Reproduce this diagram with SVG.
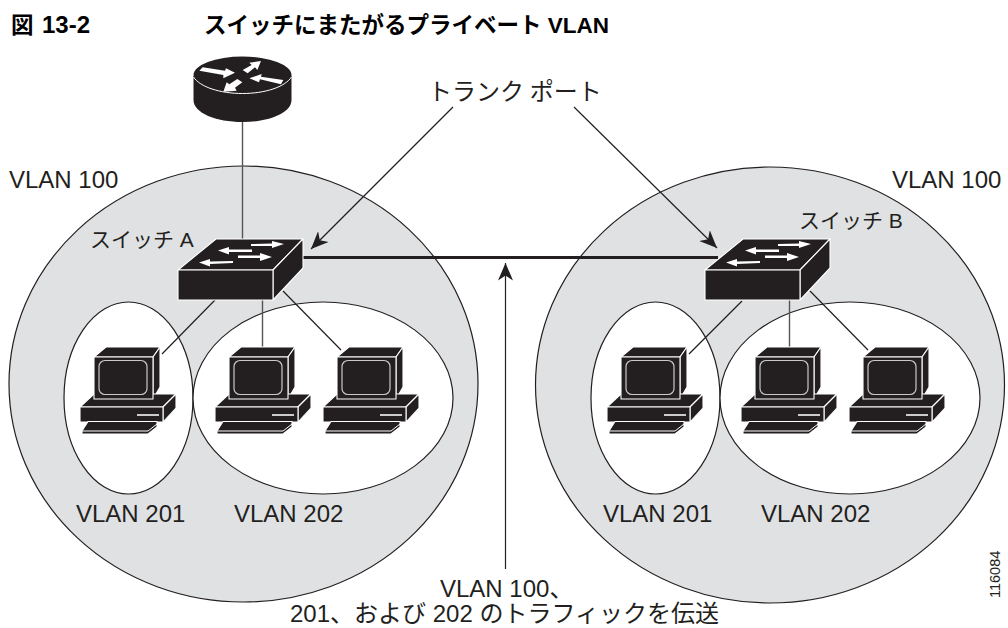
<svg xmlns="http://www.w3.org/2000/svg" width="1008" height="628" viewBox="0 0 1008 628">
<style>
text{font-family:"Liberation Sans","Noto Sans CJK JP",sans-serif;fill:#231f20;font-size:24px}
.t{font-weight:bold;font-size:22.500px;fill:#000}
.s{font-size:21px}
.n{font-size:14.500px}
.big{fill:#e0e1e3;stroke:#231f20;stroke-width:1.2}
.small{fill:#fff;stroke:#231f20;stroke-width:1.2}
.c{fill:none;stroke:#231f20;stroke-width:1.2}
.g{fill:none;stroke:#555;stroke-width:1.4}
.k{fill:#231f20;stroke:#fff;stroke-width:1.1;stroke-linejoin:round}
.w{fill:#fff;stroke:none}
</style>
<defs>
<g id="pc">
<path class="k" d="M94 357L106 347H160L153 357Z"/>
<path class="k" d="M153 357L160 347V387L153 399Z"/>
<path class="k" d="M80 407L94 394H170L176 394L163 407Z"/>
<rect class="k" x="94" y="357" width="59" height="42"/>
<rect x="99" y="360.500" width="48" height="34" rx="6" fill="none" stroke="#c9c9c9" stroke-width="1.2"/>
<path class="k" d="M163 407L176 394V408L163 422Z"/>
<rect class="k" x="80" y="407" width="83" height="15"/>
<rect x="137" y="414" width="22" height="2" fill="#ccc"/>
<path class="k" d="M88 421.500H157V427L148 434H82V431Z"/>
<path d="M82 431H148L157 424" fill="none" stroke="#fff" stroke-width="1"/>
</g>
<g id="switch">
<path class="k" d="M178 270L216 239H303L273 270Z"/>
<path class="k" d="M273 270L303 239V268L273 300Z"/>
<rect class="k" x="178" y="270" width="95" height="30"/>
<path class="w" d="M251 244L272 243.500V241L284 244L272 248V246L251 246Z"/>
<path class="w" d="M218 250.500L229 247V249.500L252 249.500V252L229 252V254.500Z"/>
<path class="w" d="M238 255.500L260 255.500V253L272 257L260 261V258L238 258Z"/>
<path class="w" d="M199 262.500L210 259V261.500L233 261V263L210 264V266.500Z"/>
</g>
<marker id="barb" markerUnits="userSpaceOnUse" markerWidth="24" markerHeight="24" refX="17.500" refY="12" orient="auto">
<path d="M17.500 12L0 4.500L5 12L0 19.500Z" fill="#231f20"/>
</marker>
</defs>
<rect width="1008" height="628" fill="#fff"/>
<g id="title">
<text class="t" x="11" y="33">図</text>
<text class="t" x="42" y="33" style="font-size:24px">13-2</text>
<text class="t" x="204" y="33">スイッチにまたがるプライベート VLAN</text>
</g>
<g id="vlan-100-a"><ellipse class="big" cx="243.500" cy="384" rx="234.500" ry="218"/></g>
<g id="vlan-100-b"><ellipse class="big" cx="770" cy="385" rx="234.500" ry="218"/></g>
<g id="vlan-201-a"><ellipse class="small" cx="128.500" cy="398" rx="64.500" ry="96"/></g>
<g id="vlan-202-a"><ellipse class="small" cx="323" cy="398" rx="130" ry="96"/></g>
<g id="vlan-201-b"><ellipse class="small" cx="655.500" cy="398" rx="64.500" ry="96"/></g>
<g id="vlan-202-b"><ellipse class="small" cx="850" cy="398" rx="130" ry="96"/></g>
<g id="connectors">
<path class="g" d="M242.500 122V239"/>
<path class="c" d="M215 300L162 354"/>
<path class="g" d="M262.500 300V347"/>
<path class="c" d="M283 291L341 350"/>
<path class="c" d="M742 301L689 354"/>
<path class="g" d="M789.500 300V347"/>
<path class="c" d="M810 291L868 350"/>
<path d="M303 257.500H718" fill="none" stroke="#231f20" stroke-width="3"/>
<path class="c" d="M453 107L311 249" marker-end="url(#barb)"/>
<path class="c" d="M574 107L717 248" marker-end="url(#barb)"/>
<path class="c" d="M505.500 569V263" marker-end="url(#barb)"/>
</g>
<g id="router">
<path d="M193.500 76V100C193.500 113 216 122 242.500 122S291.500 113 291.500 100V76Z" fill="#231f20"/>
<ellipse cx="242.500" cy="75" rx="49" ry="18.500" fill="#231f20"/>
<path d="M193.500 77C200 87 220 93.500 242.500 93.500S285 87 291.500 77" fill="none" stroke="#fff" stroke-width="1"/>
<g transform="translate(180 50) scale(.3333)">
<path class="w" d="M58 62L68 52L135 62L138 55L165 68L130 85L130 75Z"/>
<path class="w" d="M188 60L203 70L225 52L232 60L243 33L208 38L215 45Z"/>
<path class="w" d="M310 90L303 103L240 88L237 97L208 85L245 72L243 80Z"/>
<path class="w" d="M172 87L187 97L165 113L170 122L130 125L140 97L148 103Z"/>
</g>
</g>
<g id="switch-a"><use href="#switch"/></g>
<g id="switch-b"><use href="#switch" x="527"/></g>
<g id="pc-a1"><use href="#pc"/></g>
<g id="pc-a2"><use href="#pc" x="135"/></g>
<g id="pc-a3"><use href="#pc" x="243"/></g>
<g id="pc-b1"><use href="#pc" x="527"/></g>
<g id="pc-b2"><use href="#pc" x="661"/></g>
<g id="pc-b3"><use href="#pc" x="769"/></g>
<g id="labels">
<text x="9" y="188">VLAN 100</text>
<text x="892" y="188">VLAN 100</text>
<text class="s" x="90" y="247">スイッチ A</text>
<text class="s" x="799" y="228">スイッチ B</text>
<text x="428" y="100" word-spacing="-1">トランク ポート</text>
<text x="76" y="522">VLAN 201</text>
<text x="234" y="522">VLAN 202</text>
<text x="603" y="522">VLAN 201</text>
<text x="761" y="522">VLAN 202</text>
<text x="440" y="597">VLAN 100、</text>
<text x="290" y="622">201、および 202 のトラフィックを伝送</text>
<text class="n" transform="translate(1000 598) rotate(-90)">116084</text>
</g>
</svg>
